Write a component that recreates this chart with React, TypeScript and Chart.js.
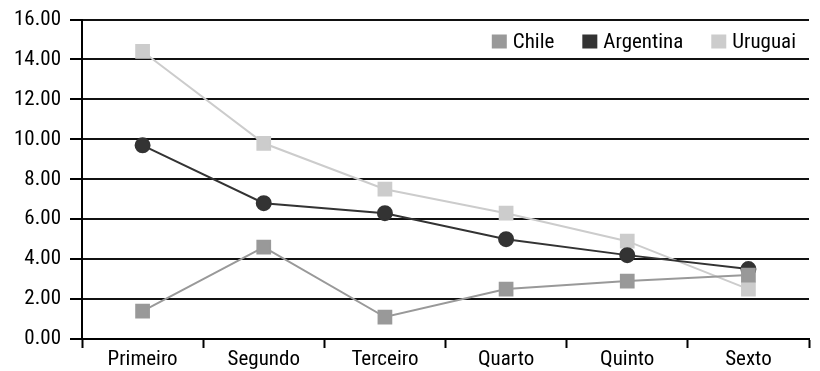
import React, { useEffect, useRef } from "react";
import { Chart, registerables } from "chart.js";

Chart.register(...registerables);

const categories = ["Primeiro", "Segundo", "Terceiro", "Quarto", "Quinto", "Sexto"];
const chile = [1.4, 4.6, 1.1, 2.5, 2.9, 3.2];
const argentina = [9.7, 6.8, 6.3, 5.0, 4.2, 3.5];
const uruguai = [14.4, 9.8, 7.5, 6.3, 4.9, 2.5];
const seriesNames = ["Chile", "Argentina", "Uruguai"];
const yMin = 0;
const yMax = 16;
const yStep = 2;

const FAMILY = "'Roboto Condensed', 'DejaVu Sans Condensed', sans-serif";
const SIZE = 21;

const insideLegend = {
  id: "insideLegend",
  afterDatasetsDraw(chart: any) {
    const ctx = chart.ctx;
    const area = chart.chartArea;
    ctx.save();
    ctx.font = `${SIZE}px ${FAMILY}`;
    ctx.textBaseline = "middle";
    const box = 15;
    const gapText = 6;
    const gapItem = 28;
    const items = chart.data.datasets.map((d: any) => ({
      label: d.label as string,
      color: d.borderColor as string,
      w: box + gapText + ctx.measureText(d.label).width,
    }));
    const total = items.reduce((s: number, it: any) => s + it.w, 0) + gapItem * (items.length - 1);
    let x = area.right - 13 - total;
    const cy = area.top + 22;
    ctx.fillStyle = "#fff";
    ctx.fillRect(x - 8, cy - 12, total + 16, 24);
    items.forEach((it: any) => {
      ctx.fillStyle = it.color;
      ctx.fillRect(x, cy - 7, box, 14);
      ctx.fillStyle = "#000";
      ctx.textAlign = "left";
      ctx.fillText(it.label, x + box + gapText, cy + 1);
      x += it.w + gapItem;
    });
    ctx.restore();
  },
};

export default function App() {
  const ref = useRef<HTMLCanvasElement | null>(null);

  useEffect(() => {
    document.body.style.margin = "0";
    const canvas = ref.current;
    if (!canvas) return;
    const font = { family: FAMILY, size: SIZE, lineHeight: 1.0 };
    const mk = (i: number, data: number[], color: string, style: any, r: number) => ({
      label: seriesNames[i],
      data,
      borderColor: color,
      backgroundColor: color,
      pointBackgroundColor: color,
      pointBorderColor: color,
      pointStyle: style,
      pointRadius: r,
      borderWidth: 2,
      tension: 0,
    });
    const chart = new Chart(canvas, {
      type: "line",
      data: {
        labels: categories,
        datasets: [
          mk(0, chile, "#999999", "rect", 9),
          mk(1, argentina, "#333333", "circle", 7),
          mk(2, uruguai, "#cccccc", "rect", 9),
        ],
      },
      options: {
        animation: false,
        responsive: false,
        maintainAspectRatio: false,
        layout: { padding: { top: 9, right: 0, left: 5, bottom: 0 } },
        plugins: {
          tooltip: { enabled: false },
          legend: { display: false },
        },
        scales: {
          x: {
            type: "category",
            offset: true,
            grid: {
              display: true,
              drawOnChartArea: false,
              drawTicks: true,
              tickLength: 9,
              tickWidth: 2,
              tickColor: "#000",
              offset: true,
            },
            border: { display: true, color: "#000", width: 2 },
            ticks: {
              color: "#000",
              font,
              padding: 1,
              maxRotation: 0,
            },
          },
          y: {
            min: yMin,
            max: yMax,
            grid: {
              display: true,
              color: "#111",
              lineWidth: 2,
              drawTicks: true,
              tickLength: 12,
              tickColor: "#000",
            },
            border: { display: true, color: "#000", width: 2 },
            ticks: {
              stepSize: yStep,
              color: "#000",
              padding: 9,
              font,
              callback: (v: any) => Number(v).toFixed(2),
            },
          },
        },
      },
      plugins: [insideLegend],
    });
    return () => chart.destroy();
  }, []);

  return (
    <div style={{ width: 820, height: 371, background: "#fff" }}>
      <canvas ref={ref} width={820} height={371} style={{ display: "block" }} />
    </div>
  );
}
